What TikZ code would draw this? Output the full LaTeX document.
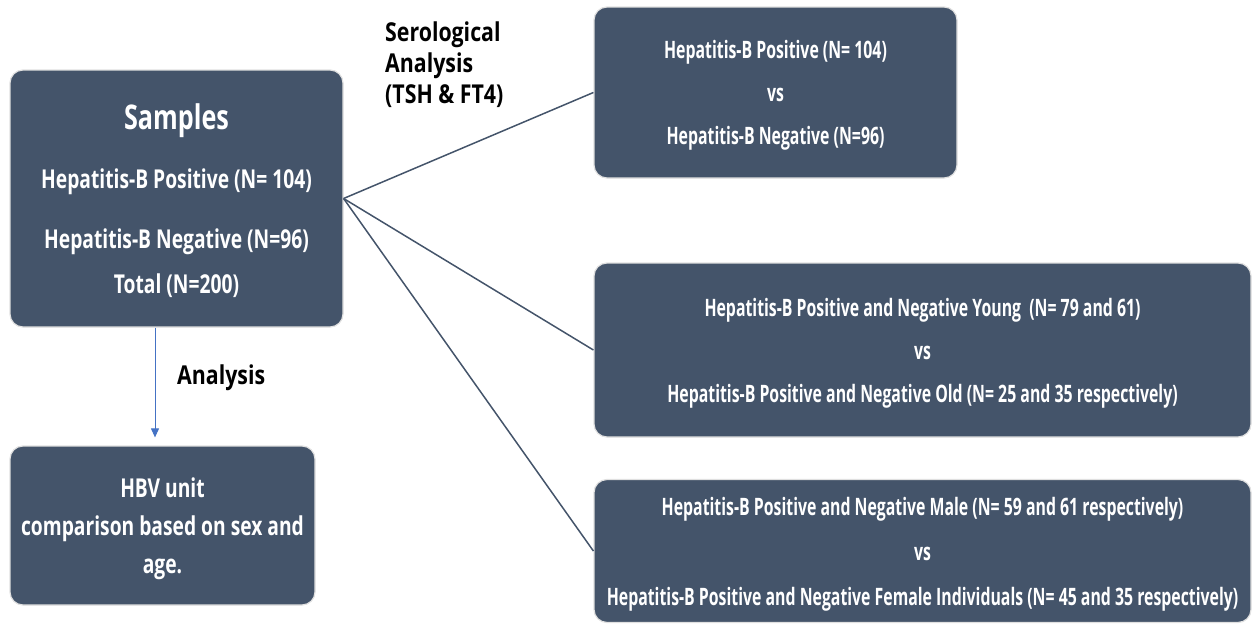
\documentclass[tikz,border=0pt]{standalone}
\usepackage{fontspec}
\setmainfont{Open Sans}[FakeStretch=0.66]
\newfontfamily\widefont{Open Sans}[FakeStretch=0.74]
\newfontfamily\labelfont{Open Sans}[FakeStretch=0.82]
\usetikzlibrary{arrows.meta, positioning}

\definecolor{slate}{HTML}{44546A}
\definecolor{arrowblue}{HTML}{4472C4}

\begin{document}
\begin{tikzpicture}[
    x=1pt, y=-1pt,
    node distance=1cm,
    box/.style={draw=black!12, line width=1.2pt, fill=slate, text=white,
        rounded corners=13pt, align=center, inner sep=0pt, text depth=0pt,
        font=\bfseries\fontsize{24}{43}\selectfont},
    tag/.style={align=left, inner sep=0pt, text=black,
        font=\labelfont\bfseries\fontsize{26}{31}\selectfont},
    link/.style={slate, line width=1.5pt},
    arrow/.style={-{Triangle[length=9pt,width=8pt]}, arrowblue, line width=1pt}
]
\useasboundingbox (0,0) rectangle (1253,624);

% Left column
\node (samp) [box, minimum width=333pt, minimum height=257pt,
    font=\widefont\bfseries\fontsize{26}{30}\selectfont] at (176.5,198.5)
    {{\fontsize{34}{40}\selectfont Samples}\\[29pt]
     Hepatitis-B Positive (N= 104)\\[30pt]
     Hepatitis-B Negative (N=96)\\[15pt]
     Total (N=200)};
\node (hbv) [box, minimum width=305pt, minimum height=159pt,
    font=\widefont\bfseries\fontsize{26}{38}\selectfont] at (162.5,525.5)
    {HBV unit\\ comparison based on sex and\\ age.};

\draw[arrow] ([xshift=-21.5pt]samp.south) -- ([xshift=-7.5pt,yshift=8pt]hbv.north);
\node (ana) [tag, anchor=west] at (177,378) {Analysis};

% Right column
\node (cmp1) [box, minimum width=363pt, minimum height=171pt] at (775.5,92.5)
    {Hepatitis-B Positive (N= 104)\\ vs\\ Hepatitis-B Negative (N=96)};
\node (cmp2) [box, minimum width=657pt, minimum height=174pt] at (922.5,350)
    {Hepatitis-B Positive and Negative Young~~(N= 79 and 61)\\ vs\\
     Hepatitis-B Positive and Negative Old (N= 25 and 35 respectively)};
\node (cmp3) [box, minimum width=657pt, minimum height=143pt,
    font=\bfseries\fontsize{24}{45}\selectfont] at (922.5,551)
    {Hepatitis-B Positive and Negative Male (N= 59 and 61 respectively)\\ vs\\
     Hepatitis-B Positive and Negative Female Individuals (N= 45 and 35 respectively)};

\node (sero) [tag, anchor=north west] at (385,22) {Serological\\ Analysis\\ (TSH \& FT4)};

\draw[link] (samp.east) -- (cmp1.west);
\draw[link] (samp.east) -- (cmp2.west);
\draw[link] (samp.east) -- (cmp3.west);

\end{tikzpicture}
\end{document}
